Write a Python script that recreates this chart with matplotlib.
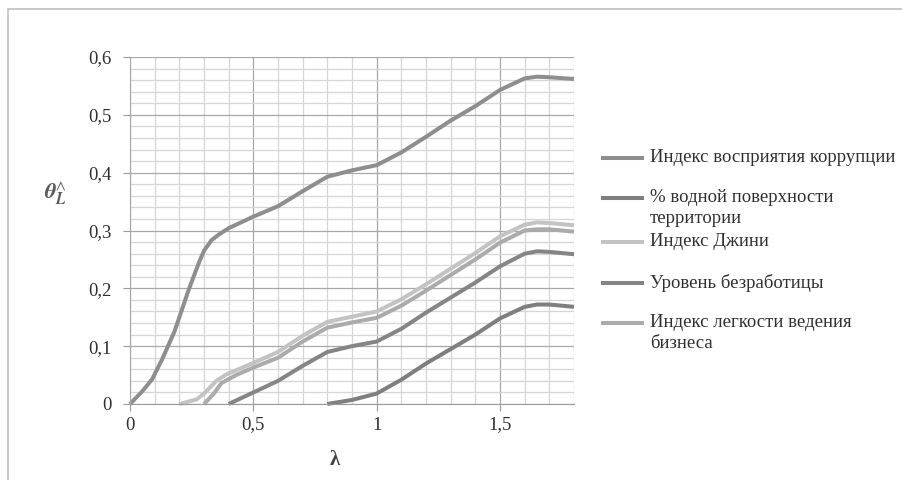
import matplotlib
matplotlib.use("Agg")
import matplotlib.pyplot as plt
from matplotlib.lines import Line2D
from matplotlib.patches import Rectangle
from matplotlib.ticker import MultipleLocator, FuncFormatter

# ---- data ----
labels = ["Индекс восприятия коррупции",
          "% водной поверхности\nтерритории",
          "Индекс Джини",
          "Уровень безработицы",
          "Индекс легкости ведения\nбизнеса"]

x_corr = [0, 0.05, 0.09, 0.13, 0.18, 0.24, 0.28, 0.3, 0.33, 0.36, 0.4, 0.5, 0.6, 0.7,
          0.8, 0.9, 1.0, 1.1, 1.2, 1.3, 1.4, 1.5, 1.6, 1.65, 1.7, 1.8]
y_corr = [0, 0.022, 0.043, 0.077, 0.125, 0.2, 0.245, 0.265, 0.283, 0.293, 0.304, 0.324,
          0.342, 0.368, 0.393, 0.404, 0.413, 0.435, 0.462, 0.49, 0.515, 0.543, 0.563,
          0.566, 0.565, 0.562]

x_water = [0.8, 0.9, 1.0, 1.1, 1.2, 1.3, 1.4, 1.5, 1.6, 1.65, 1.7, 1.8]
y_water = [0, 0.007, 0.018, 0.042, 0.07, 0.095, 0.12, 0.148, 0.168, 0.172, 0.172, 0.168]

x_gini = [0.2, 0.27, 0.3, 0.35, 0.39, 0.45, 0.5, 0.6, 0.7, 0.8, 0.9, 1.0, 1.1, 1.2, 1.3,
          1.4, 1.5, 1.6, 1.65, 1.7, 1.8]
y_gini = [0, 0.008, 0.018, 0.04, 0.051, 0.062, 0.071, 0.09, 0.118, 0.142, 0.151, 0.16,
          0.181, 0.207, 0.234, 0.261, 0.29, 0.31, 0.314, 0.313, 0.309]

x_unemp = [0.4, 0.5, 0.6, 0.7, 0.8, 0.9, 1.0, 1.1, 1.2, 1.3, 1.4, 1.5, 1.6, 1.65, 1.7, 1.8]
y_unemp = [0, 0.02, 0.04, 0.066, 0.09, 0.1, 0.108, 0.13, 0.158, 0.184, 0.21, 0.238,
           0.26, 0.264, 0.263, 0.259]

x_ease = [0.3, 0.34, 0.37, 0.43, 0.5, 0.6, 0.7, 0.8, 0.9, 1.0, 1.1, 1.2, 1.3, 1.4, 1.5,
          1.6, 1.65, 1.7, 1.8]
y_ease = [0, 0.018, 0.036, 0.05, 0.063, 0.08, 0.108, 0.132, 0.141, 0.149, 0.17, 0.196,
          0.223, 0.25, 0.279, 0.3, 0.302, 0.302, 0.298]

xs = [x_corr, x_water, x_gini, x_unemp, x_ease]
ys = [y_corr, y_water, y_gini, y_unemp, y_ease]
colors = ["#8e8e8e", "#7f7f7f", "#c3c3c3", "#858585", "#ababab"]

x_ticks = [0, 0.5, 1, 1.5]
y_ticks = [0, 0.1, 0.2, 0.3, 0.4, 0.5, 0.6]

# ---- figure ----
W, H = 902, 480
fig = plt.figure(figsize=(W / 100, H / 100), dpi=100)
serif = ["Liberation Serif", "DejaVu Serif"]
plt.rcParams["mathtext.fontset"] = "stix"

# outer frame
fig.add_artist(Rectangle((8 / W, -0.02), 1.0, 1 - 9 / H + 0.02, transform=fig.transFigure,
                         fill=False, edgecolor="#bfbfbf", linewidth=1.2))

ax = fig.add_axes([130 / W, 1 - 404 / H, (574 - 130) / W, (404 - 57) / H])
ax.set_xlim(0, 1.8)
ax.set_ylim(0, 0.6)

ax.xaxis.set_minor_locator(MultipleLocator(0.1))
ax.yaxis.set_minor_locator(MultipleLocator(0.02))
ax.set_xticks(x_ticks)
ax.set_yticks(y_ticks)

fmt = FuncFormatter(lambda v, p: ("%g" % round(v, 2)).replace(".", ","))
ax.xaxis.set_major_formatter(fmt)
ax.yaxis.set_major_formatter(fmt)

ax.grid(which="minor", color="#d6d6d6", linewidth=0.9)
ax.grid(which="major", color="#a8a8a8", linewidth=0.9)
ax.set_axisbelow(True)
for s in ["top", "right"]:
    ax.spines[s].set_visible(False)
ax.spines["left"].set_color("#a8a8a8")
ax.spines["bottom"].set_color("#9a9a9a")
ax.tick_params(which="minor", length=0)
ax.tick_params(which="major", length=5, color="#9a9a9a", labelsize=13.5,
               labelcolor="#303030")
ax.tick_params(axis="x", pad=4)
ax.tick_params(axis="y", pad=8)
for lab in ax.get_xticklabels() + ax.get_yticklabels():
    lab.set_family(serif)

for x, y, c in zip(xs, ys, colors):
    ax.plot(x, y, color=c, linewidth=2.9, solid_joinstyle="round",
            solid_capstyle="butt", clip_on=False)

# axis labels
fig.text(55 / W, 1 - 194 / H, r"$\mathbfit{\theta}_{\mathbfit{L}}^{\wedge}$", fontsize=16,
         color="#5a5a5a", ha="center", va="center")
fig.text(335 / W, 1 - 460 / H, "λ", fontsize=15, fontweight="bold", color="#404040",
         ha="center", va="center", family=serif)

# legend (drawn manually)
leg_y = [158, 198, 242, 283, 323]
for lab, c, yy in zip(labels, colors, leg_y):
    fig.add_artist(Line2D([603 / W, 642 / W], [1 - yy / H, 1 - yy / H],
                          transform=fig.transFigure, color=c, linewidth=2.9))
    fig.text(650 / W, 1 - (yy - 9) / H, lab, fontsize=13.5, color="#303030",
             ha="left", va="top", family=serif, linespacing=1.3)

fig.savefig("out.png", dpi=100)
